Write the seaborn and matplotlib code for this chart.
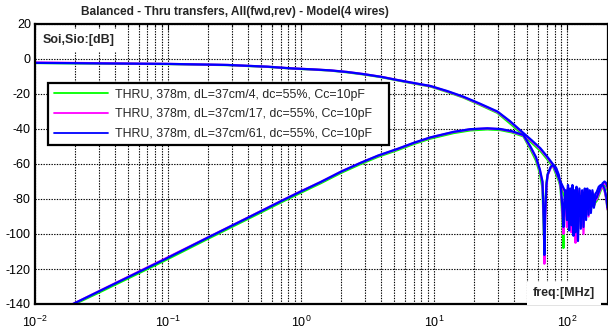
import numpy as np
import pandas as pd
import matplotlib
matplotlib.use("Agg")
import matplotlib.pyplot as plt
import seaborn as sns
from matplotlib.ticker import LogLocator, LogFormatterMathtext, NullFormatter

# ---------------- data ----------------
series_labels = [
    "THRU, 378m, dL=37cm/4, dc=55%, Cc=10pF",
    "THRU, 378m, dL=37cm/17, dc=55%, Cc=10pF",
    "THRU, 378m, dL=37cm/61, dc=55%, Cc=10pF",
]
series_colors = ["#00ff00", "#ff00ff", "#0000ff"]

# upper curve (thru transfer), MHz / dB
freq_thru = [0.01, 0.03, 0.1, 0.28, 0.56, 0.86, 1.2, 1.65, 2.2, 2.92, 4.0, 5.27, 7.0, 9.33, 12.5, 16.5, 22, 29.8,
             37, 46.7, 54, 62.6, 70, 78.5, 88.5, 96.6,
             99, 101, 103, 105, 107, 109, 111, 113, 115, 117,
             120, 123, 126, 129, 132, 135, 138, 141, 144, 147, 150,
             154, 158, 162,
             166, 172, 178, 184, 190, 196, 200]
thru_green = [-2.3, -2.6, -2.9, -3.5, -4.5, -5.5, -6.0, -6.6, -7.6, -8.8, -10.4, -12.2, -14.0, -15.7, -18.8, -22.0, -26.2, -30.8,
              -36.8, -43.5, -48.0, -52.5, -57.0, -62.0, -72.0, -80.0,
              -86, -74, -92, -76, -88, -75, -96, -77, -90, -75,
              -92, -76, -88, -78, -94, -76, -89, -77, -85, -77, -86,
              -80, -84, -82,
              -81, -78, -75, -73, -72, -73, -75]
thru_magenta = [-2.0, -2.4, -2.8, -3.4, -4.4, -5.4, -5.9, -6.5, -7.4, -8.6, -10.2, -12.0, -13.8, -15.5, -18.5, -21.7, -25.8, -30.3,
                -35.8, -42.6, -47.0, -51.5, -56.0, -61.0, -70.5, -77.0,
                -88, -73, -94, -75, -90, -74, -99, -76, -92, -74,
                -93, -75, -90, -77, -100, -75, -87, -76, -86, -76, -84,
                -79, -83, -81,
                -80, -77, -74, -72, -71, -72, -74]
thru_blue = [-2.2, -2.5, -2.8, -3.4, -4.4, -5.4, -5.9, -6.5, -7.4, -8.6, -10.2, -12.0, -13.7, -15.4, -18.3, -21.5, -25.5, -30.0,
             -35.5, -42.3, -46.5, -51.0, -55.5, -60.5, -70.0, -76.0,
             -84, -72, -90, -74, -95, -72, -86, -75, -99, -73,
             -88, -74, -97, -76, -85, -74, -92, -76, -83, -75, -88,
             -78, -85, -80,
             -79, -76, -73, -71, -70, -71, -73]

# lower curve (cross transfer), MHz / dB
freq_xt = [0.0193, 0.03, 0.05, 0.092, 0.196, 0.4, 0.733, 1.0, 1.4, 2.0, 2.78, 3.8, 5.27, 7.0, 9.33, 14, 18.6, 25, 31.3, 38, 46.7,
           52.7, 58, 62, 65, 66.5, 67.1, 68, 69.5, 71, 75, 78.5, 82, 86, 89, 91.5, 93.3, 95,
           97, 99, 101, 103, 105, 107, 109, 111, 113, 115, 117,
           120, 123, 126, 129, 132, 135, 138, 141, 144, 147, 150,
           154, 158, 162,
           166, 172, 178, 184, 190, 196, 200]
xt_green = [-140.5, -133.6, -125.4, -115.6, -103.0, -91.3, -81.3, -76.3, -71.0, -65.0, -60.1, -55.8, -52.1, -48.6, -45.5, -42.3, -40.8, -40.2, -40.6, -41.9, -44.2,
            -51.5, -58, -65, -74, -100, -98, -85, -71, -66, -62, -61, -62.5, -67.5, -75, -90, -108, -84,
            -76, -90, -75, -95, -77, -92, -74, -96, -78, -91, -75,
            -97, -77, -93, -76, -90, -78, -87, -75, -88, -77, -84,
            -77, -83, -78,
            -77, -74, -73, -73, -75, -80, -86]
xt_magenta = [-140, -132.8, -124.5, -114.6, -102.2, -90.5, -80.5, -75.5, -70.3, -64.3, -59.4, -55.2, -51.5, -48.0, -44.9, -41.7, -40.2, -39.7, -40.1, -41.4, -43.7,
              -50.5, -56.5, -63.5, -71, -92, -117, -92, -73, -66.5, -62, -61, -62.5, -67, -73, -86, -100, -82,
              -77, -96, -75, -94, -78, -99, -74, -97, -78, -105, -75,
              -99, -79, -92, -76, -94, -78, -88, -75, -90, -77, -85,
              -76, -84, -78,
              -77, -74, -73, -73, -75, -80, -86]
xt_blue = [-140, -132.9, -124.7, -114.9, -102.3, -90.6, -80.6, -75.6, -70.3, -64.3, -59.4, -55.1, -51.4, -47.9, -44.8, -41.6, -40.1, -39.6, -40.0, -41.2, -43.4,
           -50, -56, -63, -70, -95, -112, -90, -72, -66, -61.5, -60.6, -62, -66, -72, -84, -96, -80,
           -75, -92, -74, -98, -76, -88, -73, -101, -77, -94, -74,
           -104, -78, -90, -75, -96, -77, -86, -74, -89, -76, -84,
           -75, -82, -77,
           -76, -73, -72, -72, -74, -79, -85]

title_text = "Balanced - Thru transfers, All(fwd,rev) - Model(4 wires)"
ylabel_text = "Soi,Sio:[dB]"
xlabel_text = "freq:[MHz]"
y_ticks = [20, 0, -20, -40, -60, -80, -100, -120, -140]

# ---------------- long-form table ----------------
rows = []
thru_sets = [thru_green, thru_magenta, thru_blue]
xt_sets = [xt_green, xt_magenta, xt_blue]
for lab, th, xt in zip(series_labels, thru_sets, xt_sets):
    for f, v in zip(freq_thru, th):
        rows.append((f, v, lab, "thru"))
    for f, v in zip(freq_xt, xt):
        rows.append((f, v, lab, "xt"))
df = pd.DataFrame(rows, columns=["freq", "db", "series", "curve"])

# ---------------- style ----------------
sns.set_theme(style="white")
plt.rcParams["font.family"] = ["Liberation Sans", "DejaVu Sans"]
plt.rcParams["mathtext.fontset"] = "custom"
plt.rcParams["mathtext.rm"] = "Liberation Sans"
plt.rcParams["mathtext.it"] = "Liberation Sans:italic"
plt.rcParams["mathtext.bf"] = "Liberation Sans:bold"
plt.rcParams["axes.unicode_minus"] = False

W, H = 608, 332
fig = plt.figure(figsize=(W / 100, H / 100), dpi=100)
ax = fig.add_axes([35 / W, 1 - 304 / H, (607.5 - 35) / W, (304 - 24) / H])

sns.lineplot(data=df, x="freq", y="db", hue="series", units="curve", estimator=None,
             sort=False, palette=dict(zip(series_labels, series_colors)),
             hue_order=series_labels, linewidth=1.6, ax=ax, legend=True)

ax.set_xscale("log")
ax.set_xlim(0.01, 200)
ax.set_ylim(-140, 20)
ax.set_yticks(y_ticks)
ax.xaxis.set_major_locator(LogLocator(base=10, numticks=10))
ax.xaxis.set_minor_locator(LogLocator(base=10, subs=np.arange(2, 10), numticks=20))
ax.xaxis.set_major_formatter(LogFormatterMathtext())
ax.xaxis.set_minor_formatter(NullFormatter())
ax.set_xlabel("")
ax.set_ylabel("")

gkw = dict(color="black", linestyle=(0, (1.2, 1.2)), linewidth=0.8)
ax.grid(True, which="major", axis="both", **gkw)
ax.grid(True, which="minor", axis="x", **gkw)
ax.set_axisbelow(True)

for sp in ax.spines.values():
    sp.set_color("black")
    sp.set_linewidth(1.6)
ax.tick_params(axis="both", which="both", direction="in", top=True, right=True,
               colors="black", labelsize=9, width=0.8)
ax.tick_params(axis="both", which="major", length=4)
ax.tick_params(axis="x", which="minor", length=2.5)
ax.tick_params(axis="y", pad=3)
ax.tick_params(axis="x", pad=8)

# legend
handles, labels = ax.get_legend_handles_labels()
for h in handles:
    h.set_linewidth(1.3)
leg = ax.legend(handles, labels, loc="upper left",
                bbox_to_anchor=(48 / W, 1 - 146 / H, (389 - 48) / W, (146 - 83) / H),
                bbox_transform=fig.transFigure, mode="expand", borderaxespad=0, fontsize=8.9,
                frameon=True, fancybox=False, framealpha=1, edgecolor="black",
                handlelength=4.4, handletextpad=0.55, borderpad=0.45, labelspacing=0.62)
leg.get_frame().set_linewidth(1.6)
leg.set_zorder(10)

# axis labels inside plot
ax.text(43 / W, 1 - 40 / H, ylabel_text, transform=fig.transFigure, fontsize=9,
        fontweight="bold", ha="left", va="center", zorder=6,
        bbox=dict(facecolor="white", edgecolor="none", pad=4))
ax.text(595 / W, 1 - 293 / H, xlabel_text, transform=fig.transFigure, fontsize=9,
        fontweight="bold", ha="right", va="center", zorder=6,
        bbox=dict(facecolor="white", edgecolor="none", pad=4))

fig.text(235 / W, 1 - 12 / H, title_text, fontsize=8.6, fontweight="bold", ha="center", va="center")

fig.savefig("out.png", dpi=100)
